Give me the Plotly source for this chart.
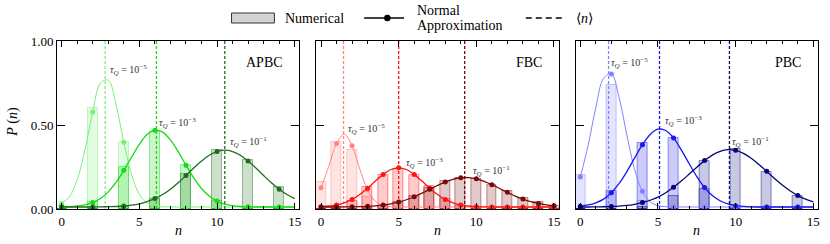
import plotly.graph_objects as go

# ---------------- data ----------------
N_EVEN = [0, 2, 4, 6, 8, 10, 12, 14]
N_ALL = list(range(16))
X_CURVE = [0, 0.5, 1, 1.5, 2, 2.5, 3, 3.5, 4, 4.5, 5, 5.5, 6, 6.5, 7, 7.5,
           8, 8.5, 9, 9.5, 10, 10.5, 11, 11.5, 12, 12.5, 13, 13.5, 14, 14.5, 15]
TAU_LABELS = ["10<sup>−5</sup>", "10<sup>−3</sup>", "10<sup>−1</sup>"]
PANEL_NAMES = ["APBC", "FBC", "PBC"]
X_TICKS = [0, 5, 10, 15]
Y_TICKS = [0, 0.5, 1.0]
Y_TICKTEXT = ["0.00", "0.50", "1.00"]

# APBC (even n)
APBC_NUM_T5 = [0.02, 0.60, 0.40, 0.01, 0.0, 0.0, 0.0, 0.0]
APBC_NUM_T3 = [0.0, 0.04, 0.25, 0.46, 0.26, 0.05, 0.01, 0.0]
APBC_NUM_T1 = [0.0, 0.0, 0.01, 0.06, 0.21, 0.35, 0.29, 0.13]
APBC_FIT_T5 = [0.033, 0.073, 0.174, 0.353, 0.578, 0.750, 0.767, 0.620, 0.398, 0.204,
               0.087, 0.035, 0.018, 0.013, 0.012, 0.012, 0.012, 0.012, 0.012, 0.012,
               0.012, 0.012, 0.012, 0.012, 0.012, 0.012, 0.012, 0.012, 0.012, 0.012, 0.012]
APBC_FIT_T3 = [0.013, 0.014, 0.018, 0.025, 0.039, 0.063, 0.102, 0.158, 0.230, 0.309,
               0.385, 0.443, 0.469, 0.458, 0.411, 0.341, 0.261, 0.185, 0.122, 0.077,
               0.047, 0.029, 0.020, 0.015, 0.013, 0.012, 0.012, 0.012, 0.012, 0.012, 0.012]
APBC_FIT_T1 = [0.012, 0.012, 0.012, 0.012, 0.012, 0.013, 0.014, 0.015, 0.018, 0.023,
               0.031, 0.044, 0.062, 0.086, 0.118, 0.156, 0.199, 0.244, 0.285, 0.320,
               0.342, 0.350, 0.342, 0.320, 0.285, 0.244, 0.199, 0.156, 0.118, 0.086, 0.062]
APBC_MEAN = [2.8, 6.1, 10.5]

# FBC (all n)
FBC_NUM_T5 = [0.16, 0.40, 0.35, 0.07, 0.02, 0, 0, 0, 0, 0, 0, 0, 0, 0, 0, 0]
FBC_NUM_T3 = [0.0, 0.01, 0.05, 0.13, 0.20, 0.24, 0.20, 0.135, 0.06, 0.02, 0.005, 0, 0, 0, 0, 0]
FBC_NUM_T1 = [0, 0, 0, 0.005, 0.02, 0.04, 0.08, 0.125, 0.165, 0.185, 0.18, 0.145, 0.105,
              0.068, 0.04, 0.02]
FBC_FIT_T5 = [0.126, 0.254, 0.390, 0.445, 0.376, 0.237, 0.114, 0.046, 0.020, 0.014,
              0.012, 0.012, 0.012, 0.012, 0.012, 0.012, 0.012, 0.012, 0.012, 0.012,
              0.012, 0.012, 0.012, 0.012, 0.012, 0.012, 0.012, 0.012, 0.012, 0.012, 0.012]
FBC_FIT_T3 = [0.014, 0.018, 0.024, 0.037, 0.057, 0.086, 0.124, 0.166, 0.206, 0.235,
              0.245, 0.235, 0.206, 0.166, 0.124, 0.086, 0.057, 0.037, 0.024, 0.018,
              0.014, 0.013, 0.012, 0.012, 0.012, 0.012, 0.012, 0.012, 0.012, 0.012, 0.012]
FBC_FIT_T1 = [0.012, 0.012, 0.012, 0.0125, 0.013, 0.014, 0.016, 0.019, 0.024, 0.031,
              0.041, 0.055, 0.073, 0.094, 0.117, 0.140, 0.161, 0.177, 0.186, 0.187,
              0.180, 0.165, 0.145, 0.122, 0.099, 0.077, 0.059, 0.044, 0.033, 0.025, 0.020]
FBC_MEAN = [1.45, 5.0, 9.25]

# PBC (even n)
PBC_NUM_T5 = [0.20, 0.74, 0.05, 0.0, 0.0, 0.0, 0.0, 0.0]
PBC_NUM_T3 = [0.0, 0.105, 0.39, 0.42, 0.12, 0.005, 0.0, 0.0]
PBC_NUM_T1 = [0.0, 0.0, 0.01, 0.08, 0.285, 0.36, 0.22, 0.08]
PBC_FIT_T5 = [0.190, 0.377, 0.604, 0.778, 0.804, 0.663, 0.439, 0.235, 0.105, 0.043,
              0.020, 0.014, 0.012, 0.012, 0.012, 0.012, 0.012, 0.012, 0.012, 0.012,
              0.012, 0.012, 0.012, 0.012, 0.012, 0.012, 0.012, 0.012, 0.012, 0.012, 0.012]
PBC_FIT_T3 = [0.017, 0.024, 0.037, 0.059, 0.097, 0.152, 0.223, 0.304, 0.383, 0.444,
              0.475, 0.467, 0.423, 0.352, 0.271, 0.193, 0.128, 0.080, 0.049, 0.030,
              0.020, 0.0155, 0.013, 0.012, 0.012, 0.012, 0.012, 0.012, 0.012, 0.012, 0.012]
PBC_FIT_T1 = [0.012, 0.012, 0.013, 0.0135, 0.015, 0.017, 0.021, 0.028, 0.038, 0.052,
              0.071, 0.097, 0.129, 0.166, 0.207, 0.249, 0.288, 0.321, 0.343, 0.353,
              0.349, 0.331, 0.302, 0.265, 0.224, 0.182, 0.143, 0.109, 0.080, 0.059, 0.043]
PBC_MEAN = [1.82, 5.1, 9.6]

# ---------------- style ----------------
FONT = "Liberation Serif"
GREENS = ["#78f078", "#12dc12", "#1d6e1d"]
REDS = ["#ff8585", "#ff1414", "#7a0a0a"]
BLUES = ["#8282ff", "#1818ee", "#06067a"]
LINE_W = [1.0, 1.3, 1.3]

# label positions (data coords) for tau annotations
LABEL_POS = [
    [(2.96, 0.83), (6.16, 0.51), (10.7, 0.40)],
    [(1.64, 0.477), (5.35, 0.274), (9.67, 0.224)],
    [(1.85, 0.87), (5.34, 0.525), (9.66, 0.40)],
]

DOMAINS = [[0.0, 0.3185], [0.3408, 0.6592], [0.6815, 1.0]]


def rgba(hexc, a):
    h = hexc.lstrip("#")
    r, g, b = int(h[0:2], 16), int(h[2:4], 16), int(h[4:6], 16)
    return f"rgba({r},{g},{b},{a})"


panels = [
    dict(n=N_EVEN, nums=[APBC_NUM_T5, APBC_NUM_T3, APBC_NUM_T1],
         fits=[APBC_FIT_T5, APBC_FIT_T3, APBC_FIT_T1], means=APBC_MEAN, colors=GREENS),
    dict(n=N_ALL, nums=[FBC_NUM_T5, FBC_NUM_T3, FBC_NUM_T1],
         fits=[FBC_FIT_T5, FBC_FIT_T3, FBC_FIT_T1], means=FBC_MEAN, colors=REDS),
    dict(n=N_EVEN, nums=[PBC_NUM_T5, PBC_NUM_T3, PBC_NUM_T1],
         fits=[PBC_FIT_T5, PBC_FIT_T3, PBC_FIT_T1], means=PBC_MEAN, colors=BLUES),
]

fig = go.Figure()
annotations = []

for p_i, p in enumerate(panels):
    xa = "x" if p_i == 0 else f"x{p_i + 1}"
    ya = "y" if p_i == 0 else f"y{p_i + 1}"
    # bars
    for k in range(3):
        c = p["colors"][k]
        fig.add_trace(go.Bar(
            x=p["n"], y=p["nums"][k], width=0.64, xaxis=xa, yaxis=ya,
            marker=dict(color=rgba(c, 0.22), line=dict(color=rgba(c, 0.45), width=1)),
            showlegend=False, hoverinfo="skip"))
    # curves + markers + mean lines
    for k in range(3):
        c = p["colors"][k]
        fit = p["fits"][k]
        fig.add_trace(go.Scatter(
            x=X_CURVE, y=fit, mode="lines", xaxis=xa, yaxis=ya,
            line=dict(color=c, width=LINE_W[k], shape="spline", smoothing=1.0),
            showlegend=False, hoverinfo="skip"))
        mx = p["n"]
        my = [fit[X_CURVE.index(v)] for v in mx]
        fig.add_trace(go.Scatter(
            x=mx, y=my, mode="markers", xaxis=xa, yaxis=ya,
            marker=dict(color=c, size=5, line=dict(width=0)),
            showlegend=False, hoverinfo="skip"))
        m = p["means"][k]
        fig.add_trace(go.Scatter(
            x=[m, m], y=[0, 1], mode="lines", xaxis=xa, yaxis=ya,
            line=dict(color=c, width=1.3, dash="3px,2px"),
            showlegend=False, hoverinfo="skip"))
        lx, ly = LABEL_POS[p_i][k]
        annotations.append(dict(
            x=lx, y=ly, xref=xa, yref=ya, xanchor="left", yanchor="middle",
            text=f"<i>τ</i><sub><i>Q</i></sub> = {TAU_LABELS[k]}", showarrow=False,
            font=dict(family=FONT, size=10, color="#333333")))
    annotations.append(dict(
        x=0.94, y=0.87, xref=f"{xa} domain", yref=f"{ya} domain",
        xanchor="right", yanchor="middle", text=PANEL_NAMES[p_i], showarrow=False,
        font=dict(family=FONT, size=14, color="black")))
    annotations.append(dict(
        x=0.5, y=-0.125, xref=f"{xa} domain", yref="paper",
        xanchor="center", yanchor="middle", text="<i>n</i>", showarrow=False,
        font=dict(family=FONT, size=14, color="black")))

axis_common = dict(showline=True, linecolor="black", linewidth=1, mirror="allticks",
                   ticks="inside", tickcolor="black", tickwidth=1, showgrid=False,
                   zeroline=False,
                   tickfont=dict(family=FONT, size=13, color="black"))

layout_axes = {}
for p_i in range(3):
    sx = "" if p_i == 0 else str(p_i + 1)
    xa_anchor = "y" if p_i == 0 else f"y{p_i + 1}"
    ya_anchor = "x" if p_i == 0 else f"x{p_i + 1}"
    layout_axes[f"xaxis{sx}"] = dict(
        axis_common, domain=DOMAINS[p_i], anchor=xa_anchor, range=[-0.3, 15.3],
        tickvals=X_TICKS, ticklen=6,
        minor=dict(dtick=1, tick0=0, ticks="inside", ticklen=3, tickcolor="black"))
    layout_axes[f"yaxis{sx}"] = dict(
        axis_common, domain=[0, 1], anchor=ya_anchor, range=[0, 1.0],
        tickvals=Y_TICKS, ticktext=Y_TICKTEXT, ticklen=8,
        showticklabels=(p_i == 0))

# y-axis label
annotations.append(dict(
    x=(13 - 57) / 763, y=0.52, xref="paper", yref="paper", textangle=-90,
    xanchor="center", yanchor="middle", text="<i>P</i> (<i>n</i>)", showarrow=False,
    font=dict(family=FONT, size=14, color="black")))


# ---------------- legend (drawn manually) ----------------
def px_x(px):
    return (px - 57) / 763


def px_y(py):
    return (209 - py) / 168


shapes = [
    dict(type="rect", xref="paper", yref="paper", x0=px_x(232), x1=px_x(275),
         y0=px_y(23), y1=px_y(13), fillcolor="#d4d4d4",
         line=dict(color="#333333", width=1)),
    dict(type="line", xref="paper", yref="paper", x0=px_x(365), x1=px_x(405),
         y0=px_y(18), y1=px_y(18), line=dict(color="black", width=1.5)),
    dict(type="circle", xref="paper", yref="paper", x0=px_x(385), x1=px_x(391.5),
         y0=px_y(21.2), y1=px_y(14.8), fillcolor="black", line=dict(color="black", width=0)),
    dict(type="line", xref="paper", yref="paper", x0=px_x(527), x1=px_x(565),
         y0=px_y(18), y1=px_y(18), line=dict(color="black", width=1.5, dash="6px,4px")),
]
annotations += [
    dict(x=px_x(284), y=px_y(18), xref="paper", yref="paper", xanchor="left",
         yanchor="middle", text="Numerical", showarrow=False,
         font=dict(family=FONT, size=14, color="black")),
    dict(x=px_x(416), y=px_y(10.5), xref="paper", yref="paper", xanchor="left",
         yanchor="middle", text="Normal", showarrow=False,
         font=dict(family=FONT, size=14, color="black")),
    dict(x=px_x(416), y=px_y(25.5), xref="paper", yref="paper", xanchor="left",
         yanchor="middle", text="Approximation", showarrow=False,
         font=dict(family=FONT, size=14, color="black")),
    dict(x=px_x(575), y=px_y(18), xref="paper", yref="paper", xanchor="left",
         yanchor="middle", text="⟨<i>n</i>⟩", showarrow=False,
         font=dict(family=FONT, size=14, color="black")),
]

fig.update_layout(
    width=830, height=244,
    margin=dict(l=57, r=10, t=41, b=35),
    paper_bgcolor="white", plot_bgcolor="white",
    barmode="overlay", bargap=0,
    showlegend=False,
    annotations=annotations, shapes=shapes,
    font=dict(family=FONT, size=13, color="black"),
    **layout_axes,
)

fig.write_html("out.html",
               config={"displayModeBar": False},
               post_script="document.body.style.margin='0px';document.body.style.overflow='hidden';")
